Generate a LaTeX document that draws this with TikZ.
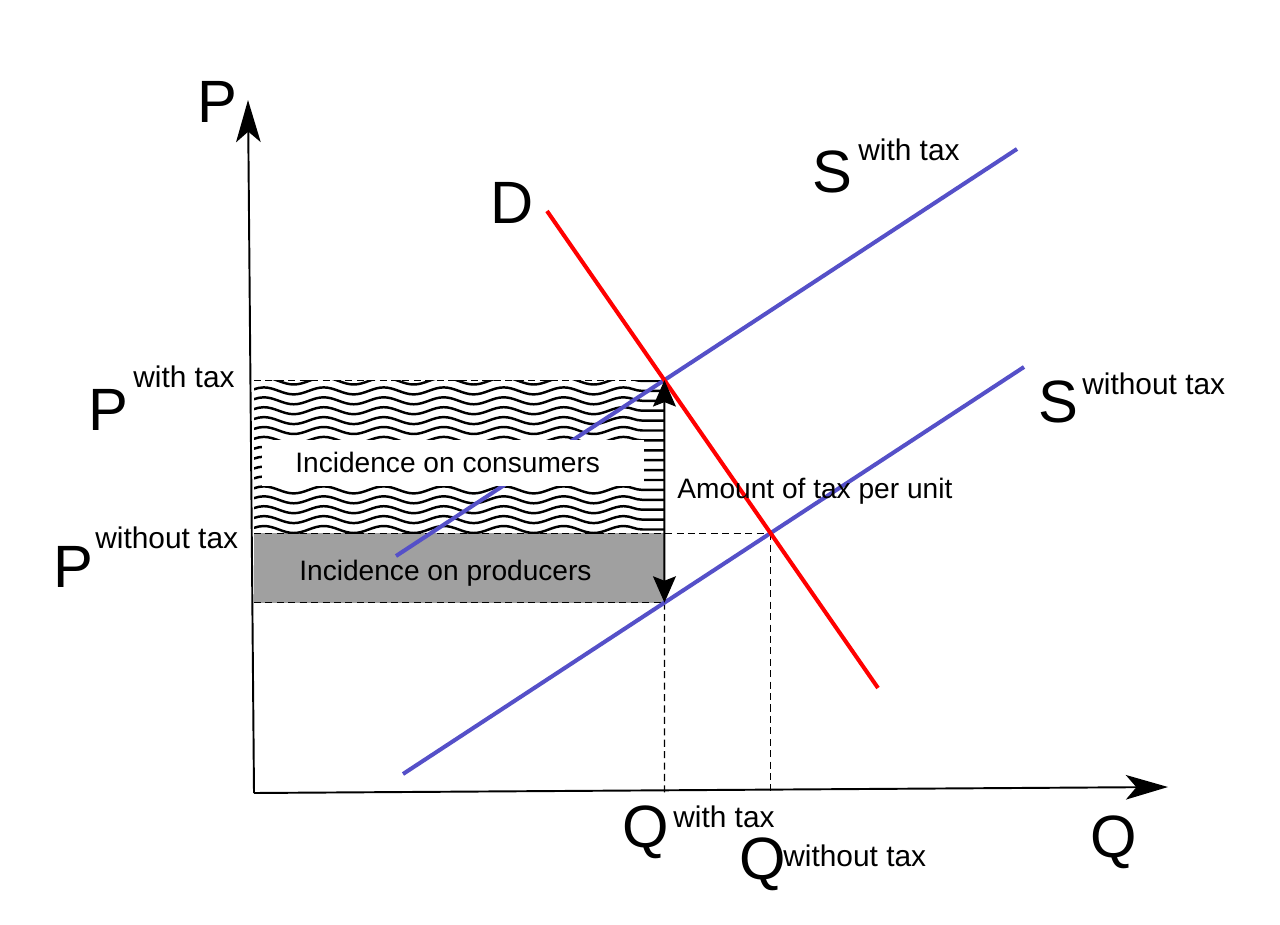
\documentclass[tikz,border=0pt]{standalone}
\usepackage{fontspec}
\setmainfont{Liberation Sans}
\usetikzlibrary{arrows.meta,decorations.pathmorphing}
\definecolor{supply}{RGB}{85,80,200}
\definecolor{prodgray}{RGB}{160,160,160}
\newcommand\bigletter{\fontsize{34}{40}\selectfont}
\newcommand\suptext{\fontsize{17}{20}\selectfont}
\newcommand\areatext{\fontsize{16}{19}\selectfont}

\begin{document}
\begin{tikzpicture}[x=0.02cm, y=-0.02cm,
    axis/.style={line width=1.1pt, -{Stealth[length=24pt,width=14pt,inset=6pt]}},
    curve/.style={line width=2.3pt},
    guide/.style={line width=0.7pt, dash pattern=on 4pt off 2.5pt},
    wave/.style={line width=1.4pt, decorate, decoration={snake, segment length=1.2cm, amplitude=0.07cm}},
    taxarrow/.style={line width=1.1pt, {Stealth[length=15pt,width=13pt,inset=2.5pt]}-{Stealth[length=15pt,width=13pt,inset=2.5pt]}},
    lbl/.style={inner sep=0pt, anchor=base west}]
    \useasboundingbox (0,0) rectangle (1280,925);
    % axes and curves
    \coordinate (O) at (254,793);
    \coordinate (Ptop) at (248,100);
    \coordinate (Qend) at (1168,787);
    \coordinate (Dtop) at (547,211);
    \coordinate (Dbot) at (878,688);
    \coordinate (Stlo) at (396,556);
    \coordinate (Sthi) at (1017,149);
    \coordinate (Snlo) at (403,774);
    \coordinate (Snhi) at (1024,367);
    \coordinate (Ewith) at (intersection of Dtop--Dbot and Stlo--Sthi);
    \coordinate (Ewithout) at (intersection of Dtop--Dbot and Snlo--Snhi);
    \coordinate (Ebelow) at (Ewith |- O);
    \coordinate (Esell) at (intersection of Snlo--Snhi and Ewith--Ebelow);
    % incidence areas
    \fill[prodgray] (O |- Ewithout) rectangle (Esell);
    \begin{scope}
        \clip (O |- Ewith) rectangle (Ewith |- Ewithout);
        \foreach \r in {0,...,15}
            \draw[wave] (245,381+9.9*\r) -- (665,381+9.9*\r);
    \end{scope}
    \draw[guide] (O |- Ewith) -- (Ewith);
    \draw[guide] (O |- Ewithout) -- (Ewithout);
    \draw[guide] (O |- Esell) -- (Esell);
    \draw[guide] (Esell) -- (Ebelow);
    \draw[guide] (Ewithout) -- (Ewithout |- O);
    % curves
    \draw[curve, supply] (Stlo) -- (Sthi);
    \draw[curve, supply] (Snlo) -- (Snhi);
    \draw[curve, red] (Dtop) -- (Dbot);
    \draw[taxarrow] (Esell) -- (Ewith);
    \draw[axis] (O) -- (Ptop);
    \draw[axis] (O) -- (Qend);
    % labels
    \node[fill=white, minimum width=7.66cm, minimum height=0.94cm, inner sep=0pt] (cons) at (453,463) {};
    \node[lbl] (constext) at (295,472) {\areatext Incidence on consumers};
    \node[lbl] (prodtext) at (299,580) {\areatext Incidence on producers};
    \node[lbl] (taxtext) at (677,498) {\areatext Amount of tax per unit};
    \node[lbl] (Plbl) at (197,123) {\bigletter P};
    \node[lbl] (Qlbl) at (1090,857) {\bigletter Q};
    \node[lbl] (Dlbl) at (490,224) {\bigletter D};
    \node[lbl] (Swith) at (812,193) {\bigletter S};
    \node[lbl] (Swithsup) at (858,161) {\suptext with tax};
    \node[lbl] (Swithout) at (1038,422) {\bigletter S};
    \node[lbl] (Swithoutsup) at (1082,395) {\suptext without tax};
    \node[lbl] (Pwith) at (88,430) {\bigletter P};
    \node[lbl] (Pwithsup) at (133,388) {\suptext with tax};
    \node[lbl] (Pwithout) at (53,587) {\bigletter P};
    \node[lbl] (Pwithoutsup) at (95,548) {\suptext without tax};
    \node[lbl] (Qwith) at (622,847) {\bigletter Q};
    \node[lbl] (Qwithsup) at (673,827) {\suptext with tax};
    \node[lbl] (Qwithout) at (739,879) {\bigletter Q};
    \node[lbl] (Qwithoutsup) at (783,866) {\suptext without tax};
\end{tikzpicture}
\end{document}
